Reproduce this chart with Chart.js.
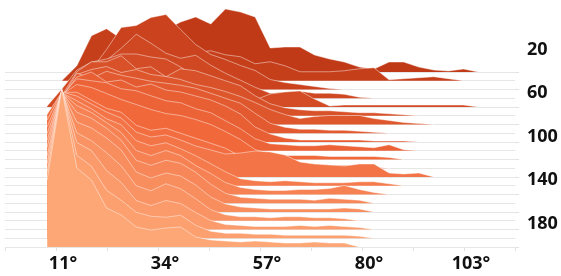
<!DOCTYPE html>
<html lang="en">
<head>
<meta charset="utf-8">
<title>Ridgeline</title>
<script src="https://cdn.jsdelivr.net/npm/chart.js@4.4.1/dist/chart.umd.min.js"></script>
<style>
    html, body { margin: 0; padding: 0; background: #ffffff; }
    canvas { display: block; }
</style>
</head>
<body>
<canvas id="ridgeChart" width="561" height="276"></canvas>
<script>
// Angles (deg) of the points on every ridge
const angles = [9.5, 12.8, 16.2, 19.5, 22.9, 26.2, 29.6, 32.9, 36.3, 39.6, 43, 46.4, 49.7, 53.1, 56.4,
                59.8, 63.1, 66.5, 69.8, 73.2, 76.5, 79.9, 83.2, 86.6, 89.9, 93.3, 96.7, 100, 103.4, 106.7];

// X axis ticks, only every other one gets a label
const xTickValues = [0, 11.5, 23, 34.5, 46, 57.5, 69, 80.5, 92, 103.5, 115];
const xTickLabels = ['', '11°', '', '34°', '', '57°', '', '80°', '', '103°', ''];

// Right axis labels and the axis value where each one sits
const yLabelValues = [197.5, 154, 110.5, 67, 23.5];
const yLabels = ['20', '60', '100', '140', '180'];

// Ridge heights, back row (r0) to front row (r20). null = no point
const r0  = [null, null, 0, 5, 15, 25, 30, 35, 42, 50, 55, 48, 63, 60, 55, 24, 25, 25, 17, 13, 10, 5, 3, 10, 10, 5, 2, 1, 3, 0];
const r1  = [null, 0, 15, 45, 52, 42, 40, 35, 30, 25, 28, 30, 26, 24, 17, 19, 15, 9, 9, 9, 10, 12, 13, 1, 2, 3, 4, 2, 0];
const r2  = [null, 0, 5, 20, 40, 62, 64, 72, 75, 60, 45, 35, 30, 24, 19, 10, 7, 5, 3, 1, 0];
const r3  = [null, 0, 2, 10, 38, 50, 64, 55, 45, 40, 43, 33, 25, 18, 11, 5, 6, 7, 5, 5, 4, 1, 0];
const r4  = [1, 18, 37, 45, 48, 53, 53, 50, 48, 40, 30, 18, 10, 8, 7, 13, 15, 16, 8, 1, 2, 2, 2, 2, 2, 2, 2, 2, 2, 0];
const r5  = [0, 20, 44, 54, 54, 60, 47, 49, 39, 47, 45, 40, 35, 30, 20, 12, 8, 6, 5, 5, 4, 3, 3, 2, 1, 0];
const r6  = [0, 25, 50, 55, 58, 52, 55, 50, 48, 45, 40, 37, 33, 28, 22, 15, 10, 6, 8, 9, 9, 9, 6, 4, 2, 1, 0];
const r7  = [5, 35, 60, 55, 62, 58, 55, 52, 50, 48, 45, 40, 35, 30, 20, 10, 6, 4, 4, 3, 3, 2, 1, 0];
const r8  = [15, 45, 65, 70, 60, 62, 55, 58, 52, 50, 46, 42, 36, 28, 15, 8, 4, 2, 2, 2, 2, 2, 1, 1, 1, 0];
const r9  = [25, 55, 72, 70, 68, 62, 60, 55, 50, 48, 42, 38, 30, 22, 12, 7, 6, 5, 5, 6, 5, 4, 3, 6, 1, 0];
const r10 = [40, 65, 75, 72, 66, 60, 55, 50, 46, 44, 40, 35, 28, 20, 10, 5, 4, 4, 4, 3, 3, 3, 3, 2, 0];
const r11 = [54, 76, 76, 68, 60, 56, 43, 38, 40, 35, 30, 25, 20, 12, 6, 5, 5, 4, 4, 3, 3, 2, 1, 0];
const r12 = [57, 85, 81, 73, 65, 59, 45, 40, 42, 37, 31, 27, 23, 24, 26, 25, 22, 15, 13, 12, 11, 13, 13, 4, 3, 4, 0];
const r13 = [59, 93, 85, 77, 67, 61, 45, 40, 43, 37, 30, 22, 14, 7, 5, 4, 5, 4, 3, 3, 3, 4, 4, 2, 0];
const r14 = [61, 102, 89, 82, 72, 62, 44, 39, 44, 39, 29, 21, 12, 7, 5, 4, 4, 5, 5, 6, 9, 5, 2, 0];
const r15 = [63, 111, 91, 85, 75, 63, 43, 38, 43, 40, 31, 19, 10, 6, 5, 4, 4, 4, 3, 5, 4, 3, 0];
const r16 = [65, 121, 90, 84, 74, 62, 40, 34, 39, 36, 27, 15, 8, 5, 4, 3, 3, 3, 3, 3, 4, 3, 0];
const r17 = [65, 130, 88, 80, 68, 55, 35, 30, 37, 32, 22, 11, 6, 4, 4, 3, 4, 4, 3, 3, 2, 0];
const r18 = [66, 140, 87, 79, 59, 47, 29, 24, 29, 26, 17, 9, 5, 4, 3, 3, 3, 4, 3, 4, 3, 2, 0];
const r19 = [66, 150, 83, 72, 48, 38, 26, 22, 21, 23, 13, 7, 5, 5, 4, 4, 3, 3, 3, 3, 3, 2, 0];
const r20 = [67, 158, 79, 67, 39, 32, 20, 17, 19, 20, 10, 7, 6, 5, 6, 5, 4, 4, 5, 4, 4, 0];

const ridges = [r0, r1, r2, r3, r4, r5, r6, r7, r8, r9, r10, r11, r12, r13, r14, r15, r16, r17, r18, r19, r20];
const ROWS = ridges.length;
const GAP = 8.75; // vertical distance between two ridge baselines

const FONT = { family: "'Open Sans', 'DejaVu Sans', sans-serif", size: 18, weight: 'bold' };

// baseline of a ridge (bottom row sits on 0)
function baseOf(row) {
    return GAP * (ROWS - 1 - row);
}

// dark red at the back, peach at the front
function ridgeColor(row) {
    const stops = [[193, 58, 23], [241, 104, 58], [253, 166, 118]];
    const t = row / (ROWS - 1) * 2;
    const k = Math.min(1, Math.floor(t));
    const f = t - k;
    const c = stops[k].map((v, j) => Math.round(v + (stops[k + 1][j] - v) * f));
    return `rgb(${c[0]}, ${c[1]}, ${c[2]})`;
}

function isLabelTick(value) {
    return yLabelValues.some(v => Math.abs(v - value) < 0.01);
}

const datasets = ridges.map((heights, row) => ({
    label: 'row ' + row,
    data: heights.map((h, i) => ({ x: angles[i], y: h === null ? null : baseOf(row) + h })),
    fill: { value: baseOf(row) },
    backgroundColor: ridgeColor(row),
    borderColor: 'rgba(255, 255, 255, 0.45)',
    borderWidth: 1,
    pointRadius: 0,
    tension: 0,
    order: ROWS - 1 - row
}));

const ctx = document.getElementById('ridgeChart').getContext('2d');
new Chart(ctx, {
    type: 'line',
    data: { datasets: datasets },
    options: {
        responsive: false,
        animation: false,
        layout: { padding: { left: 5, right: 0, top: 0, bottom: 0 } },
        plugins: {
            legend: { display: false },
            tooltip: { enabled: false }
        },
        scales: {
            x: {
                type: 'linear',
                min: 0,
                max: 115,
                afterBuildTicks: scale => {
                    scale.ticks = xTickValues.map(v => ({ value: v }));
                },
                ticks: {
                    autoSkip: false,
                    maxRotation: 0,
                    padding: 2,
                    labelOffset: 7,
                    color: '#111111',
                    font: FONT,
                    callback: (value, index) => xTickLabels[index]
                },
                grid: {
                    drawOnChartArea: false,
                    drawTicks: true,
                    tickLength: 4,
                    color: '#e2e2e2'
                },
                border: { display: false },
                afterFit: scale => {
                    scale.height = 29;
                    scale.paddingLeft = 0;
                    scale.paddingRight = 0;
                }
            },
            y: {
                type: 'linear',
                position: 'right',
                min: 0,
                max: 247,
                afterBuildTicks: scale => {
                    const grid = ridges.map((_, row) => ({ value: baseOf(row) }));
                    const labels = yLabelValues.map(v => ({ value: v }));
                    scale.ticks = grid.concat(labels).sort((a, b) => a.value - b.value);
                },
                ticks: {
                    autoSkip: false,
                    padding: 8,
                    color: '#111111',
                    font: FONT,
                    callback: value => {
                        const idx = yLabelValues.findIndex(v => Math.abs(v - value) < 0.01);
                        return idx >= 0 ? yLabels[idx] : '';
                    }
                },
                grid: {
                    tickLength: 4,
                    color: c => (c.tick && isLabelTick(c.tick.value)) ? 'rgba(0,0,0,0)' : '#e6e6e6',
                    tickColor: c => {
                        if (!c.tick || isLabelTick(c.tick.value)) return 'rgba(0,0,0,0)';
                        const row = Math.round(c.tick.value / GAP);
                        return row % 2 === 0 ? '#e2e2e2' : 'rgba(0,0,0,0)';
                    }
                },
                border: { display: false },
                afterFit: scale => {
                    scale.width = 46;
                    scale.paddingTop = 0;
                    scale.paddingBottom = 0;
                }
            }
        }
    }
});
</script>
</body>
</html>
